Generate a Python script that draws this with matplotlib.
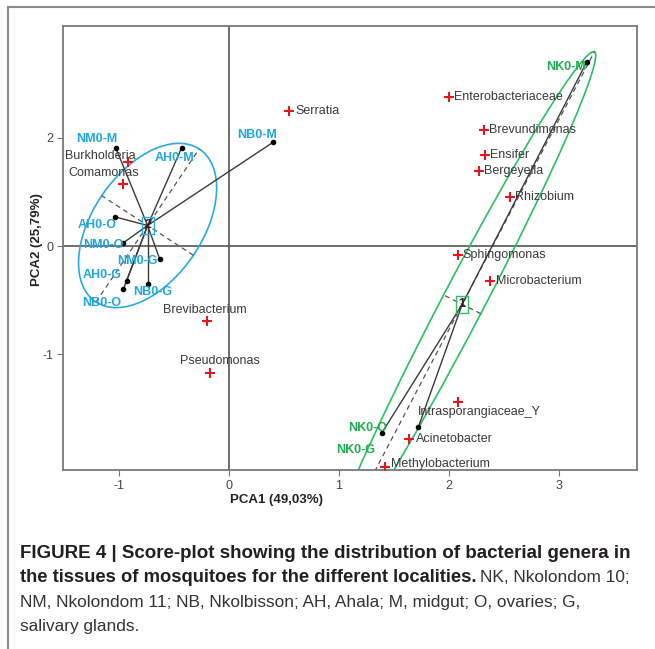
import matplotlib
matplotlib.use('Agg')
import matplotlib.pyplot as plt
from matplotlib.patches import Ellipse
from matplotlib.lines import Line2D
import numpy as np

plt.rcParams['font.family'] = ['Liberation Sans', 'DejaVu Sans']
plt.rcParams['axes.unicode_minus'] = False

# ---- samples (locality + tissue) ----
sample_names = ['NM0-M', 'AH0-M', 'NB0-M', 'AH0-O', 'NM0-O', 'NM0-G', 'AH0-G', 'NB0-O', 'NB0-G',
                'NK0-M', 'NK0-O', 'NK0-G']
sample_x = [-1.03, -0.43, 0.40, -1.04, -0.96, -0.63, -0.93, -0.96, -0.74, 3.25, 1.39, 1.72]
sample_y = [0.91, 0.91, 0.96, 0.27, 0.03, -0.12, -0.32, -0.40, -0.35, 1.70, -1.73, -1.68]
sample_group = ['2', '2', '2', '2', '2', '2', '2', '2', '2', '1', '1', '1']

# ---- group centroids and ellipses ----
group_ids = ['1', '2']
group_cx = [2.12, -0.74]
group_cy = [-0.54, 0.19]
ell_semi_major = [2.63, 0.85]
ell_semi_minor = [0.19, 0.50]
ell_angle = [62.8, 56.5]

# ---- bacterial genera ----
genus_names = ['Serratia', 'Enterobacteriaceae', 'Brevundimonas', 'Ensifer', 'Bergeyella',
               'Rhizobium', 'Sphingomonas', 'Microbacterium', 'Intrasporangiaceae_Y',
               'Acinetobacter', 'Methylobacterium', 'Brevibacterium', 'Pseudomonas',
               'Burkholderia', 'Comamonas']
genus_x = [0.55, 2.00, 2.32, 2.33, 2.27, 2.55, 2.08, 2.37, 2.08, 1.64, 1.42, -0.20, -0.17, -0.92, -0.96]
genus_y = [1.25, 1.38, 1.07, 0.84, 0.69, 0.45, -0.08, -0.32, -1.44, -1.79, -2.05, -0.69, -1.18, 0.78, 0.57]

# label placement (pixel offsets from the point)
sample_label_off = [(-19, 9), (-7, -10), (-16, 7), (-17, -8), (-20, -2), (-22, -2), (-25, 6),
                    (-22, -14), (5, -8), (-21, -5), (-14, 5), (-63, -23)]
genus_label_off = [('left', 6, 0), ('left', 5, 0), ('left', 5, 0), ('left', 5, 0), ('left', 5, 0),
                   ('left', 5, 0), ('left', 5, 0), ('left', 6, 0), ('left', -40, -10),
                   ('left', 7, 0), ('left', 6, 3), ('center', -2, 11), ('center', 10, 12),
                   ('center', -27, 6), ('center', -20, 11)]

group_colors = {'1': '#2cc063', '2': '#2aaae2'}
label_colors = {'1': '#1fae4f', '2': '#1ea6e0'}

W, H = 655, 649
fig = plt.figure(figsize=(W / 100, H / 100), dpi=100)
ax = fig.add_axes([63 / W, 1 - 470 / H, (637 - 63) / W, (470 - 26) / H])
ax.set_xlim(-1.509, 3.709)
ax.set_ylim(-2.074, 2.037)

ax.axhline(0, color='#555555', lw=1.2, zorder=1)
ax.axvline(0, color='#555555', lw=1.2, zorder=1)

# ellipses + their axes
for g, cx, cy, a, b, ang in zip(group_ids, group_cx, group_cy, ell_semi_major, ell_semi_minor, ell_angle):
    ax.add_patch(Ellipse((cx, cy), 2 * a, 2 * b, angle=ang, fill=False,
                         ec=group_colors[g], lw=1.2, zorder=2))
    t = np.deg2rad(ang)
    ax.plot([cx - a * np.cos(t), cx + a * np.cos(t)], [cy - a * np.sin(t), cy + a * np.sin(t)],
            color='#555555', lw=0.9, ls=(0, (4, 3)), zorder=2)
    ax.plot([cx + b * np.sin(t), cx - b * np.sin(t)], [cy - b * np.cos(t), cy + b * np.cos(t)],
            color='#555555', lw=0.9, ls=(0, (4, 3)), zorder=2)

# star lines from centroids
cent = dict(zip(group_ids, zip(group_cx, group_cy)))
for x, y, g in zip(sample_x, sample_y, sample_group):
    cx, cy = cent[g]
    ax.plot([cx, x], [cy, y], color='#3a3a3a', lw=1.0, zorder=3)

ax.scatter(sample_x, sample_y, s=9, color='black', zorder=4)
for name, x, y, g, (dx, dy) in zip(sample_names, sample_x, sample_y, sample_group, sample_label_off):
    ax.annotate(name, (x, y), xytext=(dx, dy), textcoords='offset pixels', ha='center', va='center',
                fontsize=9, fontweight='bold', color=label_colors[g], zorder=6)

# genera
ax.scatter(genus_x, genus_y, marker='+', s=50, color='#e5161d', linewidths=1.5, zorder=5)
for name, x, y, (ha, dx, dy) in zip(genus_names, genus_x, genus_y, genus_label_off):
    ax.annotate(name, (x, y), xytext=(dx, dy), textcoords='offset pixels', ha=ha, va='center',
                fontsize=9, color='#3a3a3a', zorder=6)

# centroid boxes
for g, cx, cy in zip(group_ids, group_cx, group_cy):
    ax.text(cx, cy, g, ha='center', va='center', fontsize=9, fontweight='bold', color='#222222',
            zorder=7, bbox=dict(boxstyle='square,pad=0.2', fc='none', ec=group_colors[g], lw=1.0))

for side in ['top', 'right', 'bottom', 'left']:
    ax.spines[side].set_color('#777777')
    ax.spines[side].set_linewidth(1.3)
ax.set_xticks([-1, 0, 1, 2, 3])
ax.set_yticks([1, 0, -1])
ax.set_yticklabels(['2', '0', '-1'])
ax.tick_params(direction='out', length=4, color='#777777', labelcolor='#444444', labelsize=9, pad=3)

fig.text(277 / W, 1 - 500 / H, 'PCA1 (49,03%)', ha='center', va='center', fontsize=9.5,
         fontweight='bold', color='#222222')
fig.text(37 / W, 1 - 240 / H, 'PCA2 (25,79%)', ha='center', va='center', rotation=90,
         fontsize=9.5, fontweight='bold', color='#222222')

# figure frame (top and left)
fig.add_artist(Line2D([8 / W, 8 / W], [0, 1 - 7 / H], color='#8a8a8a', lw=1.5))
fig.add_artist(Line2D([8 / W, 1], [1 - 7 / H, 1 - 7 / H], color='#8a8a8a', lw=1.5))

# caption
reg_size = 12.4
x0 = 20 / W
fig.text(x0, 1 - 558 / H, 'FIGURE 4 | Score-plot showing the distribution of bacterial genera in',
         fontsize=13.5, fontweight='bold', color='#231f20', va='baseline')
t_bold = fig.text(x0, 1 - 582 / H, 'the tissues of mosquitoes for the different localities.',
                  fontsize=13.2, fontweight='bold', color='#231f20', va='baseline')
fig.text(x0, 1 - 607 / H, 'NM, Nkolondom 11; NB, Nkolbisson; AH, Ahala; M, midgut; O, ovaries; G,',
         fontsize=reg_size, color='#333333', va='baseline')
fig.text(x0, 1 - 631 / H, 'salivary glands.', fontsize=reg_size, color='#333333', va='baseline')
fig.canvas.draw()
bb = t_bold.get_window_extent()
fig.text((bb.x1 + 4) / W, 1 - 582 / H, 'NK, Nkolondom 10;', fontsize=reg_size, color='#333333',
         va='baseline')

fig.savefig('out.png', dpi=100)
